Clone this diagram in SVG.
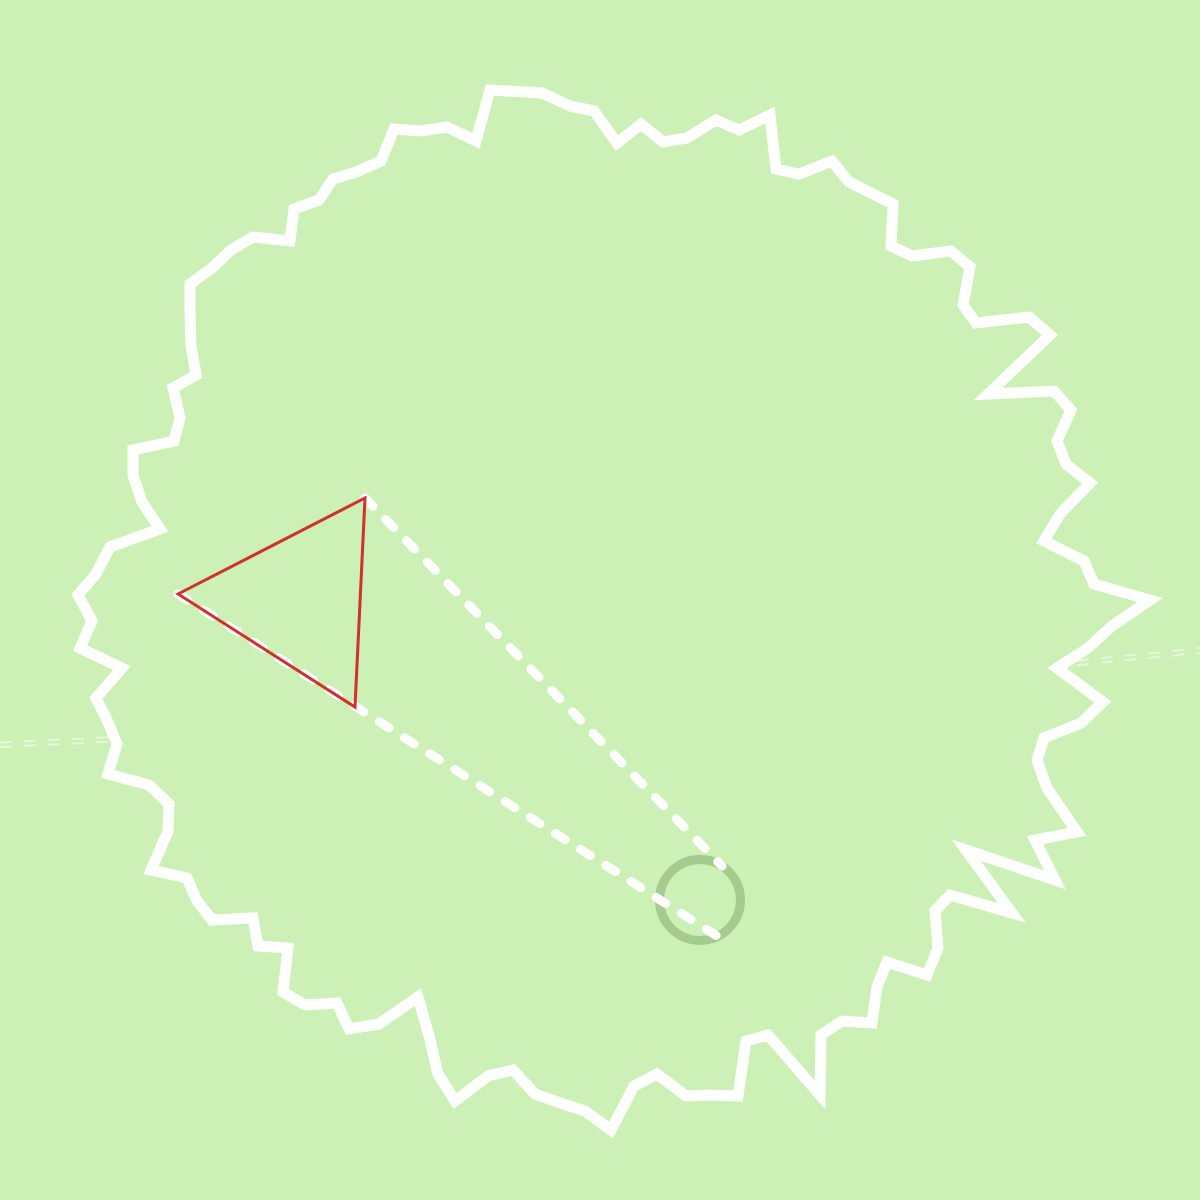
<svg xmlns="http://www.w3.org/2000/svg" width="1200" height="1200" viewBox="0 0 1200 1200">
<style>
.bg{fill:#ccf0b5}
.edge{fill:none;stroke:#ffffff;stroke-opacity:0.5;stroke-width:2;stroke-dasharray:12 12}
.blob{fill:#ccf0b5;stroke:#ffffff;stroke-width:11;stroke-linejoin:miter;stroke-miterlimit:12}
.ring{fill:none;stroke:#a5cb8f;stroke-width:9}
.dash{fill:none;stroke:#ffffff;stroke-width:9;stroke-linecap:round;stroke-dasharray:11.5 18.3}
.tri{fill:none;stroke:#d0312d;stroke-width:3;stroke-linejoin:miter}
</style>
<rect class="bg" x="0" y="0" width="1200" height="1200"/>
<g id="edge-line">
<path class="edge" d="M0,742.5 C400,724 800,690 1210,647"/>
<path class="edge" d="M0,747 C400,728.5 800,694.5 1210,651.5"/>
</g>
<g id="outline">
<polygon class="blob" points="490,90 542,93 570,106 594,111 617,143 641,124 663,142 687,138 716,120 739,130 770,115 776,169 799,174 832,161 849,182 893,204 891,246 912,256 951,251 970,267 963,305 976,323 1029,317 1050,335 988,394 1054,391 1071,410 1057,441 1066,464 1090,483 1060,514 1044,541 1084,561 1094,584 1150,600 1112,626 1088,648 1057,668 1103,702 1081,723 1044,738 1037,760 1047,788 1077,832 1035,840 1055,880 966,850 1012,913 950,895 935,911 938,948 927,975 887,962 877,987 872,1023 842,1021 821,1035 820,1095 768,1035 746,1041 738,1096 711,1095 686,1096 657,1074 634,1086 611,1130 585,1111 563,1104 535,1094 513,1070 488,1076 455,1101 438,1074 429,1036 418,997 379,1024 349,1029 337,1003 305,1005 283,992 288,948 258,946 253,918 212,920 197,901 187,878 151,870 168,831 169,804 149,785 108,774 117,744 107,720 96,698 122,668 80,648 92,621 78,595 96,574 110,547 160,529 142,502 133,475 133,450 174,441 180,418 173,388 196,375 191,345 190,313 190,284 212,268 231,250 253,237 290,241 294,209 319,200 333,179 356,172 381,161 394,129 421,131 447,127 476,141"/>
</g>
<g id="circle-node">
<circle class="ring" cx="700" cy="900" r="40.5"/>
</g>
<g id="connectors">
<line class="dash" x1="365" y1="498" x2="722" y2="866"/>
<line class="dash" x1="178" y1="594" x2="717" y2="936"/>
</g>
<g id="triangle-node">
<polygon class="tri" points="178,594 365,498 355,707"/>
</g>
</svg>
